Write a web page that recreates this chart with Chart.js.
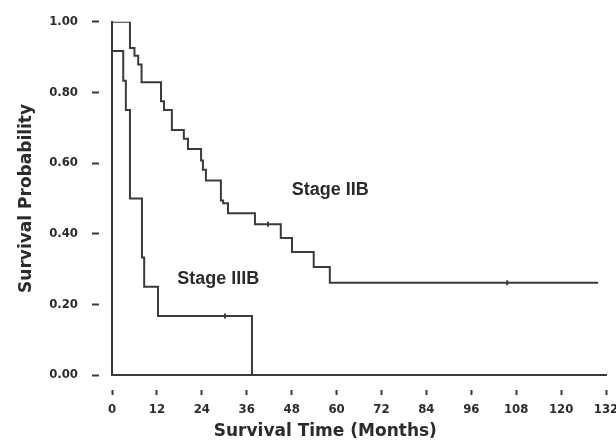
<!DOCTYPE html>
<html><head><meta charset="utf-8">
<script src="https://cdn.jsdelivr.net/npm/chart.js@4.4.1/dist/chart.umd.min.js"></script>
<style>html,body{margin:0;padding:0;background:#fff}#wrap{width:616px;height:441px;position:relative}</style>
</head><body><div id="wrap"><canvas id="c"></canvas></div>
<script>
// ---- data ----
const xTickValues = [0, 12, 24, 36, 48, 60, 72, 84, 96, 108, 120, 132];
const yTickValues = [0, 0.2, 0.4, 0.6, 0.8, 1.0];
const iibTime = [0, 4.8, 6.0, 7.0, 7.9, 13.1, 13.9, 16.0, 19.2, 20.3, 23.8, 24.3, 25.1, 29.1, 29.7, 31.0, 38.2, 45.1, 48.1, 53.9, 58.2, 129.9];
const iibSurv = [1.0, 0.926, 0.904, 0.879, 0.829, 0.775, 0.75, 0.694, 0.669, 0.64, 0.607, 0.581, 0.551, 0.494, 0.486, 0.458, 0.427, 0.388, 0.348, 0.306, 0.261, 0.261];
const iiibTime = [0, 3.0, 3.7, 4.8, 8.0, 8.6, 12.3, 37.4];
const iiibSurv = [0.917, 0.833, 0.75, 0.5, 0.333, 0.25, 0.167, 0];
const iibCensorTime = [41.7, 105.6];
const iibCensorSurv = [0.427, 0.261];
const iiibCensorTime = [30.2];
const iiibCensorSurv = [0.167];
const stageNames = ['Stage IIB', 'Stage IIIB'];
const stageLabelX = [58.3, 28.4];
const stageLabelY = [0.525, 0.272];
const xTitle = 'Survival Time (Months)';
const yTitle = 'Survival Probability';

const ink = '#2b2b2b';
const lineCol = '#3a3a3a';
const pts = (xs, ys) => xs.map((v, i) => ({x: v, y: ys[i]}));

const textPlugin = {
  id: 'kmText',
  afterDraw(chart) {
    const {ctx, scales: {x, y}} = chart;
    ctx.save();
    ctx.fillStyle = ink;
    ctx.textAlign = 'center';
    ctx.textBaseline = 'middle';
    ctx.font = 'bold 18px "Liberation Sans", Arial, sans-serif';
    stageNames.forEach((t, i) => ctx.fillText(t, x.getPixelForValue(stageLabelX[i]), y.getPixelForValue(stageLabelY[i])));
    ctx.font = 'bold 17px "DejaVu Sans", sans-serif';
    ctx.fillText(xTitle, x.getPixelForValue(57), chart.height - 9);
    ctx.restore();
  }
};

new Chart(document.getElementById('c'), {
  type: 'line',
  data: {
    datasets: [
      {label: 'Stage IIB', data: pts(iibTime, iibSurv), stepped: true, borderColor: lineCol, borderWidth: 2, pointRadius: 0, fill: false},
      {label: 'Stage IIIB', data: pts(iiibTime, iiibSurv), stepped: true, borderColor: lineCol, borderWidth: 2, pointRadius: 0, fill: false},
      {label: 'IIB censored', data: pts(iibCensorTime, iibCensorSurv), showLine: false, pointStyle: 'line', rotation: 90, pointRadius: 2.5, pointBorderWidth: 2, pointBorderColor: lineCol},
      {label: 'IIIB censored', data: pts(iiibCensorTime, iiibCensorSurv), showLine: false, pointStyle: 'line', rotation: 90, pointRadius: 2.5, pointBorderWidth: 2, pointBorderColor: lineCol}
    ]
  },
  options: {
    responsive: true,
    maintainAspectRatio: false,
    animation: false,
    layout: {padding: {top: 19, right: 10, bottom: 0, left: 0}},
    plugins: {legend: {display: false}, tooltip: {enabled: false}},
    scales: {
      x: {
        type: 'linear', min: 0, max: 132,
        afterBuildTicks(s) { s.ticks = xTickValues.map(v => ({value: v})); },
        afterFit(s) { s.height = 66; s.paddingRight = 0; s.paddingLeft = 0; },
        ticks: {color: ink, padding: 7, maxRotation: 0, autoSkip: false,
          font: {family: 'DejaVu Sans Condensed, DejaVu Sans', weight: 'bold', size: 13}},
        grid: {drawOnChartArea: false, drawTicks: true, tickLength: 20, tickWidth: 2, tickColor: lineCol,
          tickBorderDash: [5, 14], tickBorderDashOffset: 5},
        border: {display: true, color: lineCol, width: 2}
      },
      y: {
        type: 'linear', min: 0, max: 1,
        afterBuildTicks(s) { s.ticks = yTickValues.map(v => ({value: v})); },
        afterFit(s) { s.width = 112; },
        ticks: {color: ink, padding: 14, callback: v => Number(v).toFixed(2),
          font: {family: 'DejaVu Sans Condensed, DejaVu Sans', weight: 'bold', size: 13}},
        grid: {drawOnChartArea: false, drawTicks: true, tickLength: 20, tickWidth: 2, tickColor: lineCol,
          tickBorderDash: [7, 13]},
        border: {display: true, color: lineCol, width: 2},
        title: {display: true, text: yTitle, color: ink, padding: {top: 18, bottom: 0},
          font: {family: 'DejaVu Sans', weight: 'bold', size: 17, lineHeight: 1}}
      }
    }
  },
  plugins: [textPlugin]
});
</script></body></html>
